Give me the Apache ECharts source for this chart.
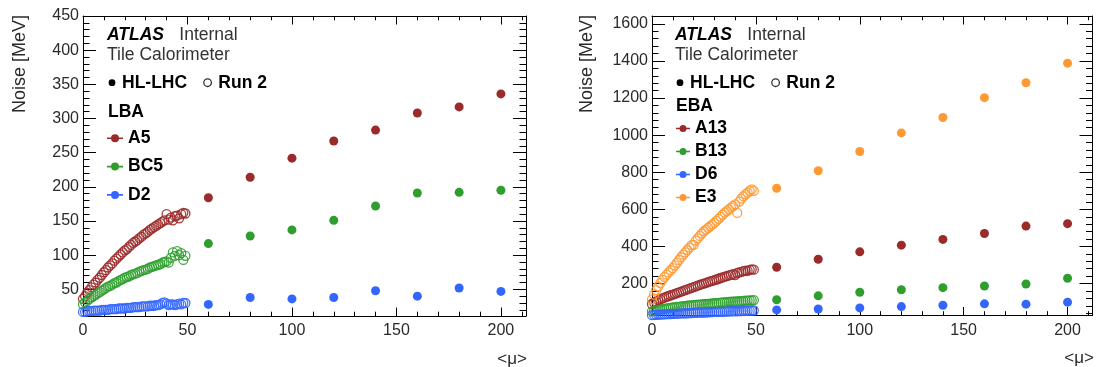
<!DOCTYPE html>
<html><head><meta charset="utf-8">
<script src="https://cdn.jsdelivr.net/npm/echarts@6/dist/echarts.min.js"></script>
<style>html,body{margin:0;padding:0;background:#fff}#c{width:1097px;height:367px}</style>
</head><body><div id="c"></div>
<script>
const FONT = '"Liberation Sans", Arial, Helvetica, sans-serif';

// ---- tick labels ----
const xTickLabels = [0, 50, 100, 150, 200];
const lbaYTickLabels = [50, 100, 150, 200, 250, 300, 350, 400, 450];
const ebaYTickLabels = [200, 400, 600, 800, 1000, 1200, 1400, 1600];

// ---- categories / x values ----
const hlMu = [60, 80, 100, 120, 140, 160, 180, 200];
const runMu = [0,1,2,3,4,5,6,7,8,9,10,11,12,13,14,15,16,17,18,19,20,21,22,23,24,25,26,27,28,29,30,31,32,33,34,35,36,37,38,39,40,41,42,43,44,45,46,47,48,49];

// ---- LBA (left) ----
const lbaA5HL  = [184, 214, 242, 267, 283, 308, 317, 336];
const lbaBC5HL = [117, 128, 137, 151, 172, 191, 192, 195];
const lbaD2HL  = [28, 38, 36, 38, 48, 40, 52, 47];
const lbaA5Run2  = [36,40,45,49,53,57,60,64,67,71,75,78,82,85,88,92,95,98,101,104,107,109,112,115,118,120,122,125,127,130,132,134,137,139,141,143,145,147,149,151,160,152,155,151,157,158,154,160,162,161];
const lbaBC5Run2 = [28,31,33,36,38,40,42,44,46,48,50,52,54,55,57,59,60,62,64,65,67,68,69,71,72,73,74,76,77,78,79,80,82,83,84,85,86,87,89,90,91,89,96,104,99,106,100,103,93,99];
const lbaD2Run2  = [17,17,18,18,18,19,19,19,19,20,20,20,20,21,21,21,21,22,22,22,22,23,23,23,24,24,24,24,25,25,25,25,26,26,26,27,27,28,30,31,29,27,28,28,27,28,29,28,30,30];

// ---- EBA (right) ----
const ebaA13HL = [288, 331, 371, 407, 438, 470, 510, 523];
const ebaB13HL = [113, 134, 153, 167, 178, 187, 198, 229];
const ebaD6HL  = [58, 63, 69, 76, 83, 91, 89, 100];
const ebaE3HL  = [714, 808, 912, 1012, 1095, 1202, 1282, 1388];
const ebaA13Run2 = [90,98,104,110,115,120,124,129,133,137,141,145,149,153,157,161,165,169,173,177,181,185,189,193,197,200,204,208,212,215,219,222,226,230,233,237,240,244,247,251,246,257,260,263,267,270,268,274,277,275];
const ebaB13Run2 = [50,53,55,58,60,62,64,66,68,69,71,72,74,75,77,78,79,81,82,83,84,85,86,87,88,89,90,91,92,93,94,95,96,97,98,99,100,101,102,103,104,104,105,106,107,108,108,109,110,111];
const ebaD6Run2  = [30,31,32,33,33,34,34,35,35,36,37,37,38,38,39,39,40,40,41,41,42,42,43,43,44,44,45,45,46,46,47,47,48,48,48,49,49,50,50,51,51,51,52,52,53,53,54,54,55,55];
const ebaE3Run2  = [115,140,165,185,203,220,235,248,260,272,283,298,312,327,342,356,368,381,394,407,409,432,444,457,470,482,491,500,509,518,527,538,549,560,571,582,591,600,609,618,627,581,642,658,670,681,690,699,708,700];

const RED = '#9b2a2a', GREEN = '#2f9e2f', BLUE = '#3366ff', ORANGE = '#ff9933';

function minorList(step, to, majorStep) {
  const out = [];
  for (let v = step; v <= to + 1e-9; v += step) if (Math.abs(v / majorStep - Math.round(v / majorStep)) > 1e-6) out.push(v);
  return out;
}
const xMinor = minorList(10, 210, 50);
const lbaYMinor = minorList(10, 440, 50).filter(v => v > 11);
const ebaYMinor = minorList(40, 1640, 200).filter(v => v > 28);

const lineStyle = { color: '#000', width: 1 };
function axisSet(kind, grid, min, max, major, minor, majLen, minLen, labelOpts) {
  const sides = kind === 'x' ? ['bottom', 'top'] : ['left', 'right'];
  const common = { type: 'value', gridIndex: grid, min: min, max: max, splitLine: { show: false }, minorTick: { show: false }, axisPointer: { show: false } };
  const out = [];
  sides.forEach((pos, si) => {
    out.push(Object.assign({}, common, {
      position: pos,
      axisLine: { show: true, onZero: false, lineStyle },
      axisTick: { show: true, inside: true, length: majLen, customValues: major, lineStyle },
      axisLabel: si === 0 ? Object.assign({ show: true, customValues: major, fontSize: 16, fontFamily: FONT, color: '#2a2a2a', formatter: v => String(v) }, labelOpts) : { show: false }
    }));
    out.push(Object.assign({}, common, {
      position: pos,
      axisLine: { show: false, onZero: false },
      axisTick: { show: true, inside: true, length: minLen, customValues: minor, lineStyle },
      axisLabel: { show: false }
    }));
  });
  return out;
}

const xAxes = [].concat(
  axisSet('x', 0, 0, 212, xTickLabels, xMinor, 8.5, 4.3, { margin: 7 }),
  axisSet('x', 1, 0, 212, xTickLabels, xMinor, 8.5, 4.3, { margin: 7 })
);
const yAxes = [].concat(
  axisSet('y', 0, 11, 450, lbaYTickLabels, lbaYMinor, 13, 6.5, { margin: 4 }),
  axisSet('y', 1, 28, 1642, ebaYTickLabels, ebaYMinor, 13, 6.5, { margin: 4 })
);

function pts(xs, ys) { return xs.map((x, i) => [x, ys[i]]); }
function hl(name, color, grid, ys) {
  return { type: 'scatter', name, xAxisIndex: grid * 4, yAxisIndex: grid * 4, symbol: 'circle', symbolSize: 9,
    itemStyle: { color: color, opacity: 1 }, data: pts(hlMu, ys), silent: true, z: 3 };
}
function run2(name, color, grid, ys) {
  return { type: 'scatter', name, xAxisIndex: grid * 4, yAxisIndex: grid * 4, symbol: 'circle', symbolSize: 9,
    itemStyle: { color: 'rgba(0,0,0,0)', borderColor: color, borderWidth: 1.3, opacity: 0.9 }, data: pts(runMu, ys), silent: true, z: 2 };
}

const legendIcon = 'path://M0,3.2H16V4.8H0Z M4,4A4,4 0 1,1 12,4A4,4 0 1,1 4,4Z';
const legText = { fontSize: 17.5, fontWeight: 'bold', color: '#000', fontFamily: FONT, lineHeight: 18 };

function txt(x, y, text, font, fill, extra) {
  return Object.assign({ type: 'text', x: x, y: y, silent: true,
    style: { text: text, font: font, fill: fill, align: 'left', verticalAlign: 'middle', textAlign: 'left', textVerticalAlign: 'middle' } }, extra || {});
}
const F = (s, w) => (w || '') + ' ' + s + 'px ' + FONT;

function header(x0, dx) {
  return [
    txt(x0, 35, 'ATLAS', F(17.5, 'italic bold'), '#000'),
    txt(x0 + 72.3, 35, 'Internal', F(17.5), '#333'),
    txt(x0, 55, 'Tile Calorimeter', F(17.5), '#333'),
    { type: 'circle', silent: true, shape: { cx: x0 + 5 + dx, cy: 82.7, r: 3.4 }, style: { fill: '#000' } },
    txt(x0 + 15 + dx, 82.7, 'HL-LHC', F(17.5, 'bold'), '#000'),
    { type: 'circle', silent: true, shape: { cx: x0 + 100.6 + dx, cy: 82.7, r: 3.8 }, style: { fill: 'none', stroke: '#333', lineWidth: 1.3 } },
    txt(x0 + 111.3 + dx, 82.7, 'Run 2', F(17.5, 'bold'), '#000')
  ];
}

const option = {
  animation: false,
  backgroundColor: '#fff',
  grid: [
    { left: 83, top: 16, width: 443, height: 300, show: false, outerBoundsMode: 'none', containLabel: false },
    { left: 652, top: 16, width: 440.5, height: 299.5, show: false, outerBoundsMode: 'none', containLabel: false }
  ],
  xAxis: xAxes,
  yAxis: yAxes,
  legend: [
    { left: 107, top: 129.3, orient: 'vertical', itemGap: 10.3, itemWidth: 16, itemHeight: 8, selectedMode: false, icon: legendIcon, padding: 0,
      textStyle: legText,
      data: [ { name: 'A5', itemStyle: { color: RED } }, { name: 'BC5', itemStyle: { color: GREEN } }, { name: 'D2', itemStyle: { color: BLUE } } ] },
    { left: 676, top: 119.5, orient: 'vertical', itemGap: 5, itemWidth: 14, itemHeight: 8, selectedMode: false, icon: legendIcon, padding: 0,
      textStyle: legText,
      data: [ { name: 'A13', itemStyle: { color: RED } }, { name: 'B13', itemStyle: { color: GREEN } }, { name: 'D6', itemStyle: { color: BLUE } }, { name: 'E3', itemStyle: { color: ORANGE } } ] }
  ],
  graphic: [].concat(
    header(107, 0),
    header(675, 0),
    [
      txt(108, 111.7, 'LBA', F(17.5, 'bold'), '#000'),
      txt(676, 106, 'EBA', F(17.5, 'bold'), '#000'),
      txt(20, 15, 'Noise [MeV]', F(18), '#2a2a2a', { rotation: Math.PI / 2, style: { text: 'Noise [MeV]', font: F(18), fill: '#2a2a2a', align: 'right', verticalAlign: 'middle', textAlign: 'right', textVerticalAlign: 'middle' } }),
      txt(587, 15, 'Noise [MeV]', F(18), '#2a2a2a', { rotation: Math.PI / 2, style: { text: 'Noise [MeV]', font: F(18), fill: '#2a2a2a', align: 'right', verticalAlign: 'middle', textAlign: 'right', textVerticalAlign: 'middle' } }),
      txt(527, 359, '<\u03bc>', F(17), '#2a2a2a', { style: { text: '<\u03bc>', font: F(17), fill: '#2a2a2a', align: 'right', verticalAlign: 'middle', textAlign: 'right', textVerticalAlign: 'middle' } }),
      txt(1094, 358, '<\u03bc>', F(17), '#2a2a2a', { style: { text: '<\u03bc>', font: F(17), fill: '#2a2a2a', align: 'right', verticalAlign: 'middle', textAlign: 'right', textVerticalAlign: 'middle' } })
    ]
  ),
  series: [
    hl('A5', RED, 0, lbaA5HL), hl('BC5', GREEN, 0, lbaBC5HL), hl('D2', BLUE, 0, lbaD2HL),
    run2('A5', RED, 0, lbaA5Run2), run2('BC5', GREEN, 0, lbaBC5Run2), run2('D2', BLUE, 0, lbaD2Run2),
    hl('A13', RED, 1, ebaA13HL), hl('B13', GREEN, 1, ebaB13HL), hl('D6', BLUE, 1, ebaD6HL), hl('E3', ORANGE, 1, ebaE3HL),
    run2('A13', RED, 1, ebaA13Run2), run2('B13', GREEN, 1, ebaB13Run2), run2('D6', BLUE, 1, ebaD6Run2), run2('E3', ORANGE, 1, ebaE3Run2)
  ]
};

const chart = echarts.init(document.getElementById('c'), null, { renderer: 'canvas' });
chart.setOption(option);
</script>
</body></html>
